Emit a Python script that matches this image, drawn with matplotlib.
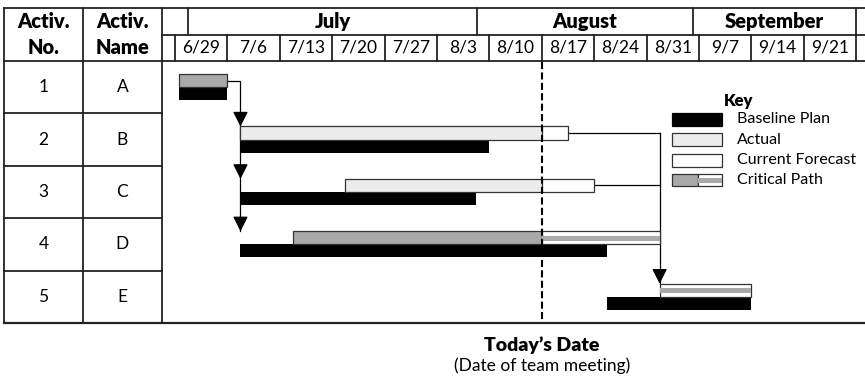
import matplotlib
matplotlib.use('Agg')
import matplotlib.pyplot as plt
from matplotlib.patches import Rectangle

plt.rcParams['font.family'] = ['Lato', 'DejaVu Sans']

# chart data (x in weeks from 6/29, y in rows)
weeks = ['6/29', '7/6', '7/13', '7/20', '7/27', '8/3', '8/10',
         '8/17', '8/24', '8/31', '9/7', '9/14', '9/21']
months = ['July', 'August', 'September']
month_edges = [0.25, 5.76, 9.89, 13.0]
activ_no = ['1', '2', '3', '4', '5']
activ_name = ['A', 'B', 'C', 'D', 'E']
baseline_start = [0.08, 1.25, 1.25, 1.25, 8.25]
baseline_end = [1.0, 6.0, 5.75, 8.25, 11.0]
actual_start = [0.08, 1.25, 3.25, 2.25, None]
actual_end = [1.0, 7.0, 7.0, 7.0, None]
forecast_start = [None, 7.0, 7.0, 7.0, 9.25]
forecast_end = [None, 7.5, 8.0, 9.25, 11.0]
critical = [True, False, False, True, True]
today = 7.0

BLACK = '#000000'
LIGHT = '#ececec'
CRIT = '#a9a9a9'
EDGE = '#333333'
LINE = '#222222'
BOLD = 'heavy'

fig = plt.figure(figsize=(8.65, 3.79), dpi=100)
ax = fig.add_axes([0, 0, 1, 1])
ax.set_xlim(-3.34, 13.17)
ax.set_ylim(6.07, -1.164)
ax.axis('off')

n = len(activ_no)
col_x = [-3.263, -1.756, -0.248]
x_right = 13.17

# --- table grid ---
tlw = 1.3
ax.plot([col_x[0], x_right], [-1.01, -1.01], color=LINE, lw=tlw)
ax.plot([col_x[0], x_right], [0, 0], color=LINE, lw=tlw)
ax.plot([col_x[2], x_right], [-0.505, -0.505], color=LINE, lw=tlw)
ax.plot([col_x[0], x_right], [n, n], color=LINE, lw=1.6)
for cx in col_x:
    ax.plot([cx, cx], [-1.01, n], color=LINE, lw=tlw)
for i in range(1, n):
    ax.plot([col_x[0], col_x[2]], [i, i], color=LINE, lw=tlw)

# month row
for e in month_edges:
    ax.plot([e, e], [-1.01, -0.505], color=LINE, lw=tlw)
for i, m in enumerate(months):
    ax.text((month_edges[i] + month_edges[i + 1]) / 2, -0.76, m,
            ha='center', va='center', fontsize=14.5, fontweight=BOLD)
# week row
for k in range(len(weeks) + 1):
    ax.plot([k, k], [-0.505, 0], color=LINE, lw=tlw)
for k, w in enumerate(weeks):
    ax.text(k + 0.5, -0.25, w, ha='center', va='center', fontsize=12.5)

# column headers
hx = [(col_x[0] + col_x[1]) / 2, (col_x[1] + col_x[2]) / 2]
ax.text(hx[0], -0.76, 'Activ.', ha='center', va='center', fontsize=14.5, fontweight=BOLD)
ax.text(hx[0], -0.25, 'No.', ha='center', va='center', fontsize=14.5, fontweight=BOLD)
ax.text(hx[1], -0.76, 'Activ.', ha='center', va='center', fontsize=14.5, fontweight=BOLD)
ax.text(hx[1], -0.25, 'Name', ha='center', va='center', fontsize=14.5, fontweight=BOLD)
for i in range(n):
    ax.text(hx[0], i + 0.5, activ_no[i], ha='center', va='center', fontsize=12.5)
    ax.text(hx[1], i + 0.5, activ_name[i], ha='center', va='center', fontsize=12.5)

# --- bars ---
bh = 0.25
for i in range(n):
    ax.barh(i + 0.5, baseline_end[i] - baseline_start[i], left=baseline_start[i],
            height=bh, align='edge', color=BLACK, lw=0, zorder=3)
    if actual_start[i] is not None:
        fc = CRIT if critical[i] else LIGHT
        ax.barh(i + 0.25, actual_end[i] - actual_start[i], left=actual_start[i],
                height=bh, align='edge', color=fc, edgecolor=EDGE, lw=0.9, zorder=3)
    if forecast_start[i] is not None:
        ax.barh(i + 0.25, forecast_end[i] - forecast_start[i], left=forecast_start[i],
                height=bh, align='edge', color='white', edgecolor=EDGE, lw=0.9, zorder=3)
        if critical[i]:
            ax.barh(i + 0.335, forecast_end[i] - forecast_start[i], left=forecast_start[i],
                    height=0.095, align='edge', color=CRIT, lw=0, zorder=4)

# --- dependency arrows ---
alw = 0.9
ahead = dict(arrowstyle='-|>,head_length=0.65,head_width=0.33', color=BLACK,
             lw=alw, mutation_scale=14, shrinkA=0, shrinkB=0)
ax.plot([baseline_end[0], 1.25, 1.25], [0.375, 0.375, 3.25], color=BLACK, lw=alw, zorder=2)
for target in [1, 2, 3]:
    ax.annotate('', xy=(1.25, target + 0.25), xytext=(1.25, target + 0.0),
                arrowprops=ahead, zorder=5)
ax.plot([forecast_end[1], 9.25], [1.375, 1.375], color=BLACK, lw=alw, zorder=2)
ax.plot([forecast_end[2], 9.25], [2.375, 2.375], color=BLACK, lw=alw, zorder=2)
ax.plot([9.25, 9.25], [1.375, 4.25], color=BLACK, lw=alw, zorder=2)
ax.annotate('', xy=(9.25, 4.25), xytext=(9.25, 4.0), arrowprops=ahead, zorder=5)

# --- today line ---
ax.plot([today, today], [0.02, 4.95], color=BLACK, lw=1.5, ls=(0, (3.4, 1.6)), zorder=6)
ax.text(today, 5.42, "Today\u2019s Date", ha='center', va='center',
        fontsize=14, fontweight=BOLD)
ax.text(today, 5.82, '(Date of team meeting)', ha='center', va='center', fontsize=12.5)

# --- key ---
kx0, kx1 = 9.485, 10.44
kh = 0.245
ax.text(10.75, 0.77, 'Key', ha='center', va='center', fontsize=12, fontweight=BOLD)
key_labels = ['Baseline Plan', 'Actual', 'Current Forecast', 'Critical Path']
key_y = [0.99, 1.38, 1.77, 2.15]
ax.add_patch(Rectangle((kx0, key_y[0]), kx1 - kx0, kh, fc=BLACK, ec=BLACK, lw=0.9))
ax.add_patch(Rectangle((kx0, key_y[1]), kx1 - kx0, kh, fc=LIGHT, ec=EDGE, lw=0.9))
ax.add_patch(Rectangle((kx0, key_y[2]), kx1 - kx0, kh, fc='white', ec=EDGE, lw=0.9))
kmid = 9.99
ax.add_patch(Rectangle((kx0, key_y[3]), kmid - kx0, kh, fc=CRIT, ec=EDGE, lw=0.9))
ax.add_patch(Rectangle((kmid, key_y[3]), kx1 - kmid, kh, fc='white', ec=EDGE, lw=0.9))
ax.add_patch(Rectangle((kmid, key_y[3] + 0.08), kx1 - kmid, 0.095, fc=CRIT, lw=0, zorder=4))
for lab, yy in zip(key_labels, key_y):
    ax.text(10.72, yy + kh / 2, lab, ha='left', va='center', fontsize=11.5)

fig.savefig('out.png', dpi=100)
